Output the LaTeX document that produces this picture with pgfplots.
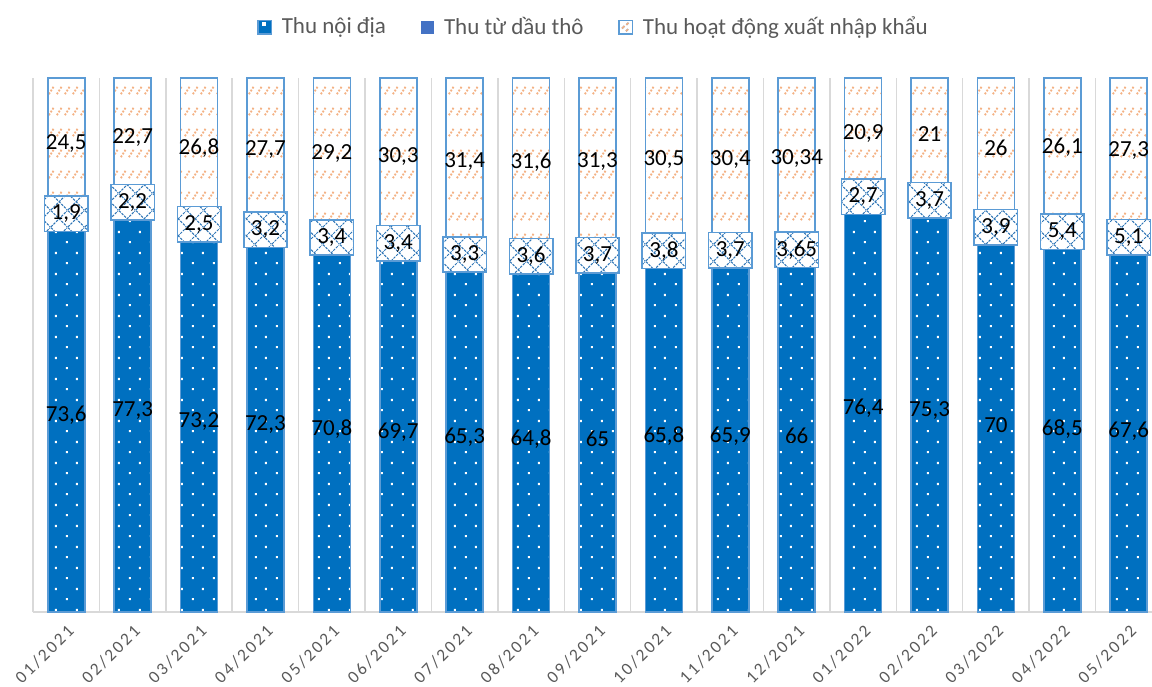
\documentclass[border=0pt]{standalone}
\usepackage{fontspec}
\setmainfont{Carlito}
\newfontfamily\tickfont[LetterSpace=14]{Carlito}
\usepackage{pgfplots}
\pgfplotsset{compat=1.18}
\usepackage{pgfplotstable}
\usetikzlibrary{patterns.meta}

\definecolor{domblue}{HTML}{0070C0}
\definecolor{edgeblue}{HTML}{5B9BD5}
\definecolor{oilblue}{HTML}{4472C4}
\definecolor{hatchblue}{HTML}{2E75B6}
\definecolor{tradeorange}{HTML}{F4B183}
\definecolor{gridgray}{HTML}{D9D9D9}
\definecolor{textgray}{HTML}{595959}

% white staggered dots on the domestic revenue bars
\pgfdeclarepattern{
  name=cellDots,
  type=uncolored,
  bottom left={\pgfpointorigin},
  top right={\pgfpoint{10.5pt}{10.5pt}},
  tile size={\pgfpoint{10.5pt}{10.5pt}},
  code={
    \pgfpathrectangle{\pgfpoint{1.5pt}{1.5pt}}{\pgfpoint{1.1pt}{1.1pt}}
    \pgfpathrectangle{\pgfpoint{6.75pt}{6.75pt}}{\pgfpoint{1.1pt}{1.1pt}}
    \pgfusepath{fill}
  }
}
% dashed diagonal lattice for crude oil revenue
\pgfdeclarepattern{
  name=crossDash,
  type=uncolored,
  bottom left={\pgfpointorigin},
  top right={\pgfpoint{8.5pt}{8.5pt}},
  tile size={\pgfpoint{8.5pt}{8.5pt}},
  code={
    \pgfsetlinewidth{0.55pt}
    \pgfsetdash{{1.3pt}{0.6pt}}{0pt}
    \pgfpathmoveto{\pgfpoint{0pt}{0pt}}
    \pgfpathlineto{\pgfpoint{8.5pt}{8.5pt}}
    \pgfpathmoveto{\pgfpoint{0pt}{8.5pt}}
    \pgfpathlineto{\pgfpoint{8.5pt}{0pt}}
    \pgfusepath{stroke}
  }
}
% short dotted strokes for import-export revenue
\pgfdeclarepattern{
  name=tradeDash,
  type=uncolored,
  bottom left={\pgfpointorigin},
  top right={\pgfpoint{4pt}{10.5pt}},
  tile size={\pgfpoint{4pt}{10.5pt}},
  code={
    \pgfsetlinewidth{1pt}
    \pgfsetdash{{1pt}{0.8pt}}{0pt}
    \pgfpathmoveto{\pgfpoint{0.5pt}{2pt}}
    \pgfpathlineto{\pgfpoint{3.5pt}{6.4pt}}
    \pgfusepath{stroke}
  }
}

\pgfplotstableread{
x dom oil trade
0 73.6 1.9 24.5
1 77.3 2.2 22.7
2 73.2 2.5 26.8
3 72.3 3.2 27.7
4 70.8 3.4 29.2
5 69.7 3.4 30.3
6 65.3 3.3 31.4
7 64.8 3.6 31.6
8 65 3.7 31.3
9 65.8 3.8 30.5
10 65.9 3.7 30.4
11 66 3.65 30.34
12 76.4 2.7 20.9
13 75.3 3.7 21
14 70 3.9 26
15 68.5 5.4 26.1
16 67.6 5.1 27.3
}\budget

% shares of the monthly total (100% stacked) and segment mid-points
\pgfplotstablecreatecol[create col/expr={\thisrow{dom}+\thisrow{oil}+\thisrow{trade}}]{tot}\budget
\pgfplotstablecreatecol[create col/expr={100*\thisrow{dom}/\thisrow{tot}}]{sdom}\budget
\pgfplotstablecreatecol[create col/expr={100*\thisrow{oil}/\thisrow{tot}}]{soil}\budget
\pgfplotstablecreatecol[create col/expr={100*\thisrow{trade}/\thisrow{tot}}]{strade}\budget
\pgfplotstablecreatecol[create col/expr={\thisrow{sdom}/2}]{cdom}\budget
\pgfplotstablecreatecol[create col/expr={\thisrow{sdom}+\thisrow{soil}/2}]{coil}\budget
\pgfplotstablecreatecol[create col/expr={\thisrow{sdom}+\thisrow{soil}+\thisrow{strade}/2}]{ctrade}\budget

\pgfplotsset{
  chartframe/.style={
    scale only axis,
    width=559.5pt, height=267pt,
    at={(16.5pt,37pt)}, anchor=south west,
    xmin=-0.5, xmax=16.35, ymin=0, ymax=100,
  },
  valuelabel/.style={
    draw=none, mark=none, forget plot,
    point meta=explicit,
    nodes near coords={\pgfmathprintnumber[assume math mode=true, use comma, fixed, precision=2]{\pgfplotspointmeta}},
    every node near coord/.append style={anchor=center, text=black,
      font=\fontsize{11.5}{12}\selectfont, inner sep=0pt},
  },
}

\begin{document}
\begin{tikzpicture}
\useasboundingbox (0,0) rectangle (576pt,343pt);

\begin{axis}[
  chartframe,
  ybar stacked,
  bar width=18.5pt,
  axis y line=none,
  axis x line*=bottom,
  x axis line style={gridgray, line width=0.75pt, -},
  xtick={0,...,16},
  xticklabels={01/2021,02/2021,03/2021,04/2021,05/2021,06/2021,07/2021,08/2021,09/2021,10/2021,11/2021,12/2021,01/2022,02/2022,03/2022,04/2022,05/2022},
  major tick length=0pt,
  minor xtick={-0.5,0.5,...,15.5},
  minor tick length=0pt,
  xminorgrids,
  minor grid style={gridgray, line width=0.75pt},
  xticklabel style={yshift=-5.5pt, xshift=0pt, rotate=45, anchor=north east, inner sep=0pt,
    font=\tickfont\fontsize{8.7}{9}\selectfont, text=textgray},
  legend columns=3,
  legend style={at={(0.502,1.095)}, anchor=center, draw=none, fill=none,
    font=\fontsize{11.5}{13}\selectfont, text=textgray,
    /tikz/every odd column/.append style={column sep=3pt},
    /tikz/every even column/.append style={column sep=15.5pt}},
  legend cell align=left,
]
\addplot[draw=edgeblue, line width=0.8pt, preaction={fill=domblue},
  pattern=cellDots, pattern color=white,
  legend image code/.code={
    \draw[edgeblue, line width=0.6pt, fill=domblue] (0pt,-3.25pt) rectangle (6.5pt,3.25pt);
    \fill[white] (2.2pt,0.9pt) rectangle (3.3pt,2pt);
  }] table[x=x, y=sdom]{\budget};
\addlegendentry{Thu nội địa}
\addplot[fill=white, draw=none,
  legend image code/.code={
    \fill[oilblue] (0pt,-3.25pt) rectangle (6.5pt,3.25pt);
  }] table[x=x, y=soil]{\budget};
\addlegendentry{Thu từ dầu thô}
\addplot[draw=edgeblue, line width=0.8pt, preaction={fill=white},
  pattern=tradeDash, pattern color=tradeorange,
  legend image code/.code={
    \draw[edgeblue, line width=0.6pt, fill=white] (0pt,-3.25pt) rectangle (6.5pt,3.25pt);
    \draw[tradeorange, line width=0.8pt] (1.4pt,-0.6pt) -- (2.6pt,0.6pt);
    \draw[tradeorange, line width=0.8pt] (3.4pt,-2pt) -- (4.4pt,-1pt);
    \draw[tradeorange, line width=0.8pt] (3.6pt,1.2pt) -- (4.6pt,2.2pt);
  }] table[x=x, y=strade]{\budget};
\addlegendentry{Thu hoạt động xuất nhập khẩu}
\end{axis}

% value labels; the crude oil label sits in its own hatched box
\begin{axis}[chartframe, hide axis, clip=false]
\addplot[valuelabel] table[x=x, y=cdom, meta=dom]{\budget};
\addplot[valuelabel] table[x=x, y=ctrade, meta=trade]{\budget};
\addplot[valuelabel,
  every node near coord/.append style={
    draw=edgeblue, line width=0.8pt, preaction={fill=white},
    pattern=crossDash, pattern color=hatchblue,
    minimum width=21.7pt, minimum height=17.7pt}]
  table[x=x, y=coil, meta=oil]{\budget};
\end{axis}
\end{tikzpicture}
\end{document}
